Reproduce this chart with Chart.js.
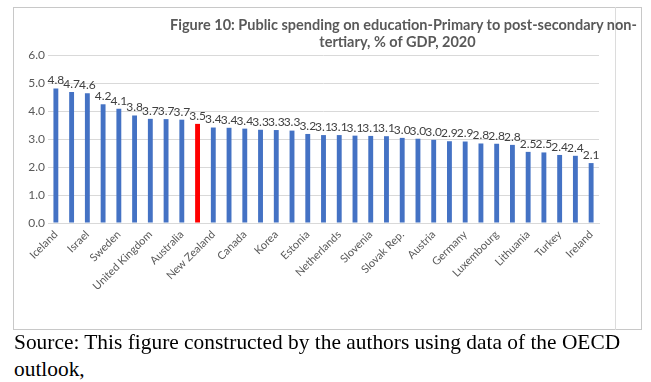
<!DOCTYPE html>
<html>
<head>
<meta charset="utf-8">
<script src="https://cdn.jsdelivr.net/npm/chart.js@4.4.1/dist/chart.umd.min.js"></script>
<style>
  html, body { margin: 0; padding: 0; background: #ffffff; }
  body { width: 651px; height: 382px; position: relative; overflow: hidden; }
  #frame { position: absolute; left: 13px; top: 7px; width: 629px; height: 323px; border: 1px solid #c8c8c8; box-sizing: border-box; }
  #inner { position: absolute; left: 615px; top: 7px; width: 1px; height: 323px; background: #dcdcdc; }
  #wrap { position: absolute; left: 0; top: 0; width: 651px; height: 331px; }
  .title { position: absolute; white-space: nowrap; transform: translateX(-50%); font-family: Lato, "Open Sans", sans-serif; font-weight: bold; font-size: 14.5px; color: #595959; line-height: 17px; }
  .src { position: absolute; left: 14px; font-family: "Liberation Serif", "Times New Roman", serif; font-size: 21.4px; color: #000; white-space: nowrap; line-height: 25px; }
</style>
</head>
<body>
<div id="frame"></div>
<div id="inner"></div>
<div id="wrap"><canvas id="c" width="651" height="331"></canvas></div>
<div class="title" style="left:403.5px; top:16px;">Figure 10: Public spending on education-Primary to post-secondary non-</div>
<div class="title" style="left:397.5px; top:33px;">tertiary, % of GDP, 2020</div>
<div class="src" style="top:330px;">Source: This figure constructed by the authors using data of the OECD</div>
<div class="src" style="top:357px;">outlook,</div>
<script>
const categories = [
  "Iceland", "Norway", "Israel", "Chile", "Sweden", "Belgium", "United Kingdom", "Denmark",
  "Australia", "OECD average", "New Zealand", "France", "Canada", "Portugal", "Korea", "Finland",
  "Estonia", "United States", "Netherlands", "Latvia", "Slovenia", "Poland", "Slovak Rep.", "Mexico",
  "Austria", "Spain", "Germany", "Italy", "Luxembourg", "Japan", "Lithuania", "Hungary",
  "Turkey", "Czech Republic", "Ireland"
];
const values = [
  4.80, 4.68, 4.63, 4.24, 4.08, 3.84, 3.72, 3.71,
  3.69, 3.54, 3.41, 3.40, 3.37, 3.33, 3.32, 3.30,
  3.18, 3.14, 3.14, 3.12, 3.11, 3.10, 3.04, 3.01,
  2.97, 2.92, 2.91, 2.84, 2.83, 2.79, 2.54, 2.52,
  2.43, 2.40, 2.14
];
const highlighted = "OECD average";
const yTicks = [0, 1, 2, 3, 4, 5, 6];

const barColors = categories.map(c => c === highlighted ? "#FF0000" : "#4472C4");

const dataLabels = {
  id: "dataLabels",
  afterDatasetsDraw(chart) {
    const ctx = chart.ctx;
    const meta = chart.getDatasetMeta(0);
    ctx.save();
    ctx.font = "12px Lato, 'Open Sans', sans-serif";
    ctx.fillStyle = "#404040";
    ctx.textAlign = "center";
    ctx.textBaseline = "bottom";
    meta.data.forEach((el, i) => {
      ctx.fillText(values[i].toFixed(1), el.x, el.y - 2);
    });
    ctx.restore();
  }
};

new Chart(document.getElementById("c"), {
  type: "bar",
  data: {
    labels: categories,
    datasets: [{
      data: values,
      backgroundColor: barColors,
      borderWidth: 0,
      barPercentage: 0.62,
      categoryPercentage: 0.5
    }]
  },
  options: {
    responsive: false,
    animation: false,
    layout: { padding: { top: 55, right: 52, bottom: 0, left: 0 } },
    plugins: { legend: { display: false }, title: { display: false }, tooltip: { enabled: false } },
    scales: {
      y: {
        min: 0, max: 6,
        afterFit(scale) { scale.width = 48; },
        afterBuildTicks(scale) { scale.ticks = yTicks.map(v => ({ value: v })); },
        grid: { color: "#d9d9d9", drawTicks: false },
        border: { display: false },
        ticks: {
          padding: 3,
          color: "#595959",
          font: { family: "Lato, 'Open Sans', sans-serif", size: 12 },
          callback: v => Number(v).toFixed(1)
        }
      },
      x: {
        afterFit(scale) { scale.height = 331 - 223; },
        grid: { display: false, drawTicks: false },
        border: { color: "#d9d9d9" },
        ticks: {
          autoSkip: false,
          maxRotation: 45, minRotation: 45,
          padding: 5,
          color: "#595959",
          font: { family: "Lato, 'Open Sans', sans-serif", size: 11 },
          callback: function(v, i) { return i % 2 === 0 ? categories[i] : ""; }
        }
      }
    }
  },
  plugins: [dataLabels]
});
</script>
</body>
</html>
